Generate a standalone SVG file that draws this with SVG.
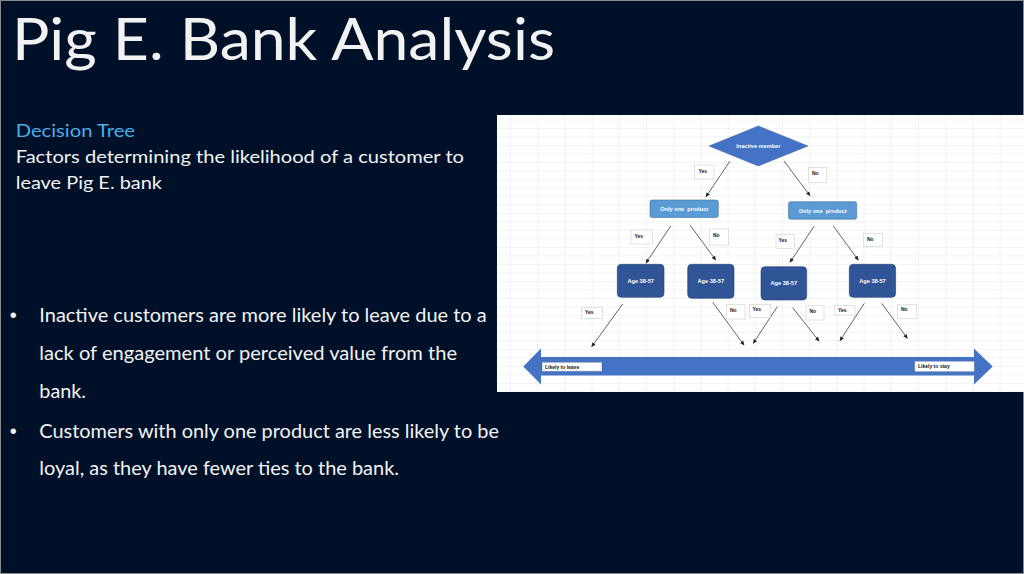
<svg xmlns="http://www.w3.org/2000/svg" width="1024" height="574" viewBox="0 0 1024 574">
<style>
.t{font-family:Lato,"Liberation Sans",sans-serif;fill:#F2F2F2}
.title{font-size:59px;font-weight:400}
.sub{font-size:16.5px}
.bul{font-size:18.5px}
.dot{font-family:"Liberation Sans",Arial,sans-serif;font-size:20px;fill:#F2F2F2}
.nt{font-family:"Liberation Sans",Arial,sans-serif;font-size:5.6px;font-weight:bold;fill:#fff;text-anchor:middle;dominant-baseline:central}
.lb{fill:#fff;stroke:#cfcfcf;stroke-width:0.6}
.lt{font-family:"Liberation Sans",Arial,sans-serif;font-size:5px;font-weight:bold;fill:#111}
.prod{fill:#5B9BD5;stroke:#41719C;stroke-width:0.6}
.age{fill:#2F5597;stroke:#203E72;stroke-width:0.6}
.con line{stroke:#555;stroke-width:0.9;marker-end:url(#ah)}
</style>
<defs>
<marker id="ah" markerUnits="userSpaceOnUse" markerWidth="5" markerHeight="5" refX="4" refY="2.5" orient="auto">
<path d="M0,0.5 L4.5,2.5 L0,4.5 Z" fill="#222"/>
</marker>
<pattern id="grid" patternUnits="userSpaceOnUse" x="510" y="119.4" width="27.2" height="8.5">
<rect width="27.2" height="8.5" fill="#fff"/>
<path d="M0,0 H27.2 M0,0 V8.5" stroke="#dedede" stroke-width="0.8" fill="none"/>
</pattern>
</defs>
<rect x="0" y="0" width="1024" height="574" fill="#001029"/>
<rect x="0.5" y="0.5" width="1023" height="573" fill="none" stroke="#8a8a8a" stroke-width="1"/>
<g id="slide-text">
<text class="t title" x="12" y="60" textLength="543" lengthAdjust="spacingAndGlyphs">Pig E. Bank Analysis</text>
<text class="t sub" x="15.7" y="136.7" textLength="119.3" lengthAdjust="spacingAndGlyphs" style="fill:#4AAEE8">Decision Tree</text>
<text class="t sub" x="15.7" y="163.3" textLength="448.3" lengthAdjust="spacingAndGlyphs">Factors determining the likelihood of a customer to</text>
<text class="t sub" x="15.7" y="189" textLength="146.3" lengthAdjust="spacingAndGlyphs">leave Pig E. bank</text>
<text class="dot" x="9.8" y="321.5">•</text>
<text class="t bul" x="39.3" y="321.7" textLength="447.4" lengthAdjust="spacingAndGlyphs">Inactive customers are more likely to leave due to a</text>
<text class="t bul" x="39.3" y="360" textLength="417.7" lengthAdjust="spacingAndGlyphs">lack of engagement or perceived value from the</text>
<text class="t bul" x="39.3" y="397.7" textLength="46.7" lengthAdjust="spacingAndGlyphs">bank.</text>
<text class="dot" x="9.8" y="438">•</text>
<text class="t bul" x="39.3" y="438.3" textLength="459.7" lengthAdjust="spacingAndGlyphs">Customers with only one product are less likely to be</text>
<text class="t bul" x="39.3" y="475" textLength="359.7" lengthAdjust="spacingAndGlyphs">loyal, as they have fewer ties to the bank.</text>
</g>
<rect x="497" y="115" width="527" height="277" fill="url(#grid)"/>
<g id="scale-arrow">
<path d="M523.3,366.5 L541,348.5 L541,357 L974,357 L974,348.5 L992.7,366.5 L974,384.5 L974,375.5 L541,375.5 L541,384.5 Z" fill="#4472C4"/>
<rect class="lb" x="542.3" y="362.7" width="59.4" height="8.3"/>
<text class="lt" x="545" y="368.8">Likely to leave</text>
<rect class="lb" x="915" y="361.7" width="59" height="9.5"/>
<text class="lt" x="918" y="368.2">Likely to stay</text>
</g>
<g class="con" id="connectors">
<line x1="730" y1="161" x2="706" y2="196.7"/>
<line x1="784" y1="161" x2="810" y2="195.7"/>
<line x1="670.7" y1="226" x2="646" y2="263"/>
<line x1="690" y1="225" x2="715.7" y2="260"/>
<line x1="814.3" y1="226" x2="790" y2="262.3"/>
<line x1="833.3" y1="226" x2="858.3" y2="260"/>
<line x1="622.7" y1="304" x2="591.7" y2="346.7"/>
<line x1="712.7" y1="302.3" x2="744" y2="345"/>
<line x1="777.3" y1="306.7" x2="753.3" y2="343.3"/>
<line x1="792.7" y1="307.7" x2="819" y2="341"/>
<line x1="864.3" y1="303.3" x2="840" y2="340.7"/>
<line x1="881.7" y1="303.3" x2="907.3" y2="338.3"/>
</g>
<g id="edge-labels">
<rect class="lb" x="694.3" y="165" width="19.7" height="14"/><text class="lt" x="698.5" y="172.5">Yes</text>
<rect class="lb" x="808.3" y="167.3" width="18.4" height="15"/><text class="lt" x="812" y="174.5">No</text>
<rect class="lb" x="631" y="230" width="21.3" height="14"/><text class="lt" x="634.5" y="237.5">Yes</text>
<rect class="lb" x="709.3" y="229" width="19.4" height="16"/><text class="lt" x="713" y="236.5">No</text>
<rect class="lb" x="776" y="234.3" width="18.3" height="14"/><text class="lt" x="778.5" y="242">Yes</text>
<rect class="lb" x="863.3" y="233.3" width="19" height="13.4"/><text class="lt" x="867" y="240.5">No</text>
<rect class="lb" x="581.7" y="307.7" width="21" height="10.6"/><text class="lt" x="585" y="314.3">Yes</text>
<rect class="lb" x="726.7" y="304.3" width="18.3" height="14.7"/><text class="lt" x="730" y="311.5">No</text>
<rect class="lb" x="749.3" y="304.3" width="21.4" height="13"/><text class="lt" x="752.5" y="311">Yes</text>
<rect class="lb" x="806" y="305.7" width="18" height="14.3"/><text class="lt" x="809.5" y="313">No</text>
<rect class="lb" x="835" y="305.7" width="20" height="9.3"/><text class="lt" x="838" y="311.5">Yes</text>
<rect class="lb" x="897.3" y="304.3" width="19.4" height="14"/><text class="lt" x="901" y="311">No</text>
</g>
<g id="node-inactive">
<polygon points="709,146 758.3,126 808,146 758.3,166" fill="#4472C4" stroke="#3A63AD" stroke-width="0.5"/>
<text class="nt" x="758.3" y="146.3">Inactive member</text>
</g>
<g id="node-product-yes">
<rect class="prod" x="650" y="200" width="68.3" height="17.5" rx="2"/>
<text class="nt" x="684.2" y="208.8" xml:space="preserve">Only one  product</text>
</g>
<g id="node-product-no">
<rect class="prod" x="788.5" y="201.7" width="68.2" height="17.5" rx="2"/>
<text class="nt" x="822.6" y="210.5" xml:space="preserve">Only one  product</text>
</g>
<g id="node-age-1">
<rect class="age" x="617.3" y="264.3" width="46.7" height="33" rx="4"/>
<text class="nt" x="640.7" y="281">Age 38-57</text>
</g>
<g id="node-age-2">
<rect class="age" x="687.7" y="264.3" width="46.3" height="34" rx="4"/>
<text class="nt" x="710.8" y="281.3">Age 38-57</text>
</g>
<g id="node-age-3">
<rect class="age" x="761" y="266.7" width="45.7" height="33.3" rx="4"/>
<text class="nt" x="783.8" y="283.3">Age 38-57</text>
</g>
<g id="node-age-4">
<rect class="age" x="849.3" y="264.3" width="46.3" height="33" rx="4"/>
<text class="nt" x="872.5" y="281">Age 38-57</text>
</g>
</svg>
